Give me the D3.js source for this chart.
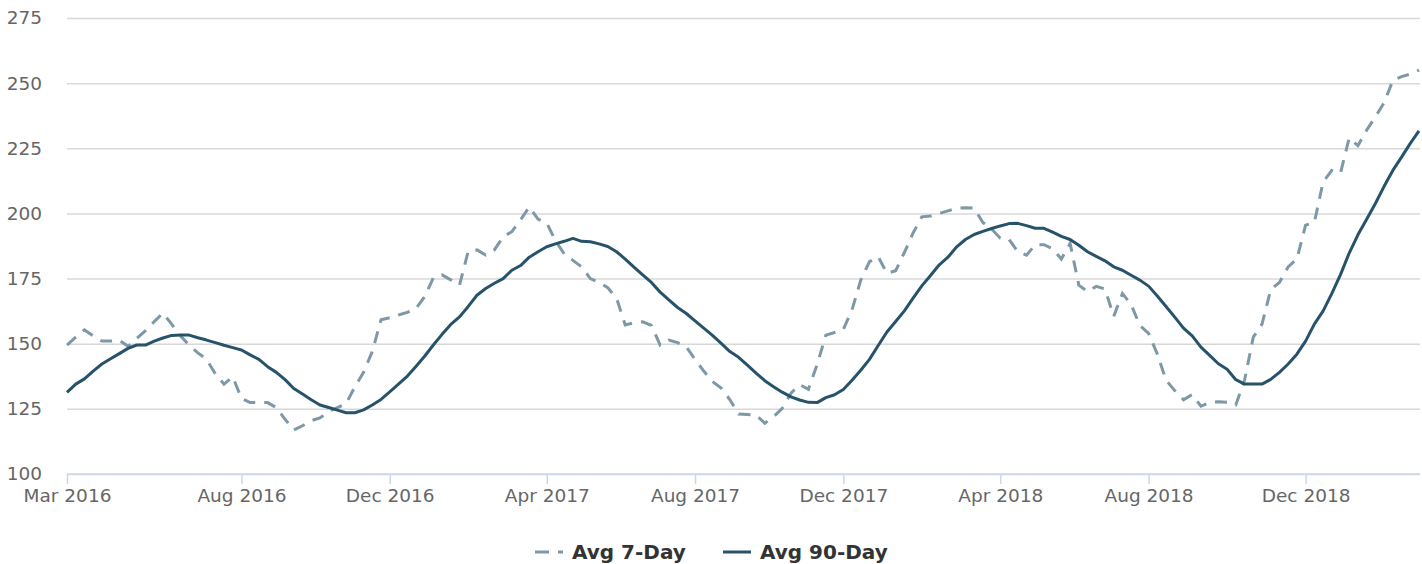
<!DOCTYPE html>
<meta charset="utf-8">
<style>
body { margin: 0; background: #fff; }
text { font-family: "DejaVu Sans", sans-serif; }
</style>
<script src="https://d3js.org/d3.v7.min.js"></script>
<div id="chart"></div>
<script>
// weekly points, first one is the week of 18 Mar 2016
var startDate = "2016-03-18";

var avg7 = [
  149.5, 152.5, 155.3, 153, 151, 151, 151.3, 149, 152, 155,
  158.5, 161.8, 157.5, 153, 149.5, 146.5, 144, 138.5, 134.5, 137.3,
  129, 127.4, 127.4, 127.4, 125.5, 121, 116.9, 118.5, 120.5, 121.5,
  124, 125.5, 127, 133.5, 139, 147, 159.2, 160, 161, 162,
  163.5, 168, 175.3, 176.4, 174.5, 172.5, 185.5, 186, 184, 186,
  191, 193, 197.5, 202.5, 197.8, 196.3, 189.5, 184.5, 182, 179.5,
  175, 173.5, 171.5, 167.5, 157.2, 158, 158.4, 157, 149.5, 151.4,
  150.4, 148.8, 144, 139.5, 135.5, 133, 128.5, 123, 122.8, 122.6,
  119.5, 122, 125.2, 131, 134.3, 132.5, 142, 153.3, 154.3, 155.5,
  163, 174.4, 181.5, 183.4, 177, 178, 185, 192.5, 198.7, 199,
  200, 201, 202, 202.2, 202, 196.5, 194, 190.5, 190, 185.3,
  184, 188, 188, 186.5, 182.5, 188.5, 172.5, 170, 172, 171,
  160.5, 169.3, 165, 157, 154, 146, 136, 132, 128.5, 130.5,
  126, 127.5, 127.7, 127.5, 126.5, 136, 152.5, 157.5, 170.8, 173.5,
  179.5, 182.5, 195.5, 196.5, 212, 216.5, 215.5, 229, 226, 232,
  237, 242.5, 251, 252.5, 253.5, 255
];

var avg90 = [
  131.3, 134.5, 136.5, 139.5, 142.2, 144.2, 146.2, 148.2, 149.5, 149.5,
  151, 152.2, 153.2, 153.3, 153.3, 152.3, 151.4, 150.4, 149.4, 148.5,
  147.6, 145.7, 144, 141.2, 139, 136.2, 132.8, 130.7, 128.5, 126.5,
  125.5, 124.5, 123.5, 123.5, 124.6, 126.5, 128.6, 131.5, 134.5, 137.5,
  141.3, 145.2, 149.5, 153.6, 157.4, 160.3, 164.3, 168.6, 171.2, 173.2,
  175, 178.2, 180, 183.2, 185.3, 187.2, 188.3, 189.3, 190.4, 189.3,
  189.1, 188.3, 187.3, 185.3, 182.5, 179.4, 176.4, 173.5, 169.8, 166.8,
  163.9, 161.6, 158.8, 156, 153.2, 150.1, 147, 144.8, 141.8, 138.7,
  135.8, 133.5, 131.4, 129.6, 128.4, 127.5, 127.4, 129.3, 130.4, 132.4,
  136, 139.8, 144, 149.3, 154.5, 158.5, 162.6, 167.5, 172.2, 176.2,
  180.3, 183.2, 187.2, 190, 191.9, 193.1, 194.2, 195.2, 196.1, 196.2,
  195.3, 194.3, 194.3, 192.8, 191.2, 190, 187.8, 185.3, 183.5, 181.8,
  179.5, 178.2, 176.3, 174.4, 172.1, 168.3, 164.3, 160.2, 156, 153,
  148.7, 145.5, 142.3, 140.2, 136.2, 134.5, 134.5, 134.5, 136.3, 139,
  142.2, 146, 151, 157.5, 162.5, 169.2, 176.5, 184.8, 191.8, 197.8,
  203.8, 210.4, 216.5, 221.6, 226.9, 231.7
];

var xLabels = ["Mar 2016", "Aug 2016", "Dec 2016", "Apr 2017", "Aug 2017",
               "Dec 2017", "Apr 2018", "Aug 2018", "Dec 2018"];
var yTicks = [100, 125, 150, 175, 200, 225, 250, 275];
var seriesNames = ["Avg 7-Day", "Avg 90-Day"];

var W = 1422, H = 564;
var plot = {left: 67, right: 1419, top: 18, bottom: 474, gridEnd: 1420};

var svg = d3.select("#chart").append("svg")
  .attr("width", W)
  .attr("height", H);

var start = d3.utcParse("%Y-%m-%d")(startDate);
var dates = avg7.map(function(d, i) { return d3.utcDay.offset(start, 7 * i); });
var fmt = d3.utcFormat("%b %Y");

var x = d3.scaleUtc()
  .domain(d3.extent(dates))
  .range([plot.left, plot.right]);

var y = d3.scaleLinear()
  .domain([100, 275])
  .range([plot.bottom, plot.top]);

// grid lines + y labels
var yAxis = svg.append("g")
  .attr("transform", "translate(" + plot.left + ",0)")
  .call(d3.axisLeft(y).tickValues(yTicks).tickSize(-(plot.gridEnd - plot.left)).tickPadding(25));
yAxis.select(".domain").remove();
yAxis.selectAll("line")
  .attr("stroke", "#d8d8d8")
  .attr("stroke-width", 1.5);
yAxis.selectAll("text")
  .attr("fill", "#666")
  .style("font-size", "18.5px");

// x axis
var tickDates = xLabels.map(function(l) {
  return dates.find(function(d) { return fmt(d) === l; });
});
var xAxis = svg.append("g")
  .attr("transform", "translate(0," + plot.bottom + ")")
  .call(d3.axisBottom(x).tickValues(tickDates).tickFormat(fmt).tickSizeOuter(0).tickSize(10).tickPadding(5));
xAxis.select(".domain")
  .attr("d", "M" + plot.left + ",0H" + plot.gridEnd)
  .attr("stroke", "#ccd6eb")
  .attr("stroke-width", 1.5);
xAxis.selectAll("line")
  .attr("stroke", "#ccd6eb")
  .attr("stroke-width", 1.5);
xAxis.selectAll("text")
  .attr("fill", "#666")
  .style("font-size", "18.5px");

// lines
var line = d3.line()
  .x(function(d, i) { return x(dates[i]); })
  .y(function(d) { return y(d); });

var colors = ["#7d98a6", "#27536a"];

svg.append("path")
  .datum(avg7)
  .attr("fill", "none")
  .attr("stroke", colors[0])
  .attr("stroke-width", 3)
  .attr("stroke-dasharray", "12,9")
  .attr("d", line);

svg.append("path")
  .datum(avg90)
  .attr("fill", "none")
  .attr("stroke", colors[1])
  .attr("stroke-width", 3)
  .attr("stroke-linejoin", "round")
  .attr("d", line);

// legend
var legend = svg.append("g").attr("transform", "translate(0,552)");
var legendX = [535, 723];
seriesNames.forEach(function(name, i) {
  legend.append("line")
    .attr("x1", legendX[i]).attr("x2", legendX[i] + 28)
    .attr("y1", 0).attr("y2", 0)
    .attr("stroke", colors[i])
    .attr("stroke-width", 3)
    .attr("stroke-dasharray", i === 0 ? "14,9" : null);
  legend.append("text")
    .attr("x", legendX[i] + 37)
    .attr("y", 0)
    .attr("dy", "0.35em")
    .attr("fill", "#333")
    .style("font-size", "20px")
    .style("font-weight", "bold")
    .text(name);
});
</script>
